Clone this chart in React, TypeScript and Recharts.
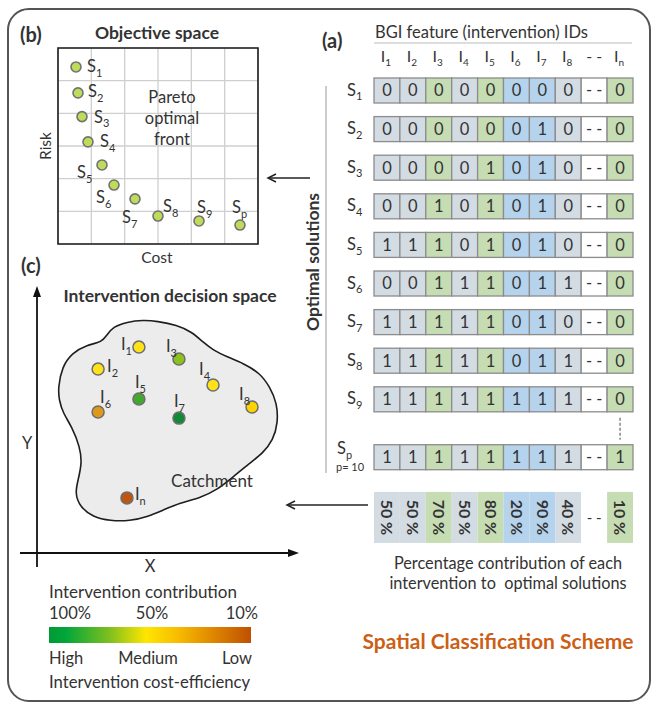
import React from "react";
import {
  ScatterChart,
  Scatter,
  XAxis,
  YAxis,
  CartesianGrid,
  ReferenceArea,
  ReferenceLine,
  Curve,
} from "recharts";

const FONT = "Lato, 'Noto Sans', sans-serif";
const INK = "#333333";

// ---- (b) objective space ----
const solutionIds = ["1", "2", "3", "4", "5", "6", "7", "8", "9", "p"];
const solutionCost = [0.54, 0.6, 0.72, 0.9, 1.32, 1.68, 2.31, 3.0, 4.23, 5.46];
const solutionRisk = [10.84, 9.25, 7.8, 6.25, 4.84, 3.61, 2.76, 1.71, 1.41, 1.16];
const costTicks = [0, 1, 2, 3, 4, 5, 6];
const riskTicks = [0, 1, 2, 3, 4, 5, 6, 7, 8, 9, 10, 11, 12];

// ---- (a) solutions x interventions ----
const interventionIds = ["1", "2", "3", "4", "5", "6", "7", "8", "--", "n"];
const solutionBits: (number | null)[][] = [
  [0, 0, 0, 0, 0, 0, 0, 0, null, 0],
  [0, 0, 0, 0, 0, 0, 1, 0, null, 0],
  [0, 0, 0, 0, 1, 0, 1, 0, null, 0],
  [0, 0, 1, 0, 1, 0, 1, 0, null, 0],
  [1, 1, 1, 0, 1, 0, 1, 0, null, 0],
  [0, 0, 1, 1, 1, 0, 1, 1, null, 0],
  [1, 1, 1, 1, 1, 0, 1, 0, null, 0],
  [1, 1, 1, 1, 1, 0, 1, 1, null, 0],
  [1, 1, 1, 1, 1, 1, 1, 1, null, 0],
  [1, 1, 1, 1, 1, 1, 1, 1, null, 1],
];
const contributionPct: (number | null)[] = [50, 50, 70, 50, 80, 20, 90, 40, null, 10];

// ---- (c) intervention decision space ----
const siteIds = ["1", "2", "3", "4", "5", "6", "7", "8", "n"];
const siteX = [39.2, 23.5, 54.6, 67.7, 39.2, 23.5, 54.6, 82.7, 34.6];
const siteY = [77.7, 69.4, 73.2, 63.4, 58.1, 53.2, 50.9, 55.1, 20.8];
const catchmentX = [
  8.1, 9.6, 13.5, 19.2, 25.0, 26.9, 29.2, 34.6, 40.8, 46.2, 53.8, 59.6, 63.8, 67.7,
  73.1, 79.2, 85.8, 89.6, 92.3, 92.7, 90.8, 86.9, 81.9, 75.4, 69.2, 62.7, 55.0, 48.5,
  42.3, 35.8, 28.1, 21.5, 16.5, 14.6, 15.8, 17.3, 16.5, 13.5, 10.0, 8.5,
];
const catchmentY = [
  62.3, 70.2, 75.5, 78.5, 79.6, 82.3, 85.3, 87.2, 87.9, 87.5, 86.0, 83.4, 79.6, 76.6,
  74.0, 71.7, 67.9, 62.6, 56.6, 49.1, 42.6, 37.7, 34.0, 28.7, 23.8, 20.8, 18.9, 16.2,
  13.6, 12.1, 12.1, 13.6, 17.4, 22.6, 27.5, 34.0, 40.0, 47.5, 52.8, 57.7,
];

// styling / placement (not data)
const COLUMN_FILL = [
  "#d3dbe3", "#d3dbe3", "#c6dcb3", "#d3dbe3", "#c6dcb3",
  "#b5d3ec", "#b5d3ec", "#d3dbe3", "#ffffff", "#c6dcb3",
];
const solutionLabelOffset: [number, number][] = [
  [11, 5], [10, 4], [12, 6], [12, 5], [-25, 13], [-18, 18], [-13, 24], [5, -4], [-2, -8], [-8, -12],
];
const siteLabelOffset: [number, number][] = [
  [-18, 3], [9, 3], [-13, -7], [-14, -10], [-4, -11], [2, -9], [-5, -11], [-13, -7], [8, 2],
];
const rampStops: [number, string][] = [
  [100, "#00892f"], [90, "#108a36"], [80, "#44a830"], [70, "#8cc21f"],
  [50, "#ffe21a"], [40, "#ffd200"], [20, "#e0981b"], [10, "#c0560e"],
];
const rowPos = (i: number) => (i < 9 ? i : 9.5);
const PCT_ROW = 11.06;
const CELL_W = 25.9;
const CELL_H = 25;

function hex(c: string) {
  const n = parseInt(c.slice(1), 16);
  return [(n >> 16) & 255, (n >> 8) & 255, n & 255];
}
function rampColor(pct: number) {
  for (let i = 0; i < rampStops.length - 1; i++) {
    const [p0, c0] = rampStops[i];
    const [p1, c1] = rampStops[i + 1];
    if (pct <= p0 && pct >= p1) {
      const t = (p0 - pct) / (p0 - p1);
      const a = hex(c0), b = hex(c1);
      return `rgb(${a.map((v, k) => Math.round(v + (b[k] - v) * t)).join(",")})`;
    }
  }
  return pct > 100 ? rampStops[0][1] : rampStops[rampStops.length - 1][1];
}

const solutions = solutionIds.map((id, i) => ({ id, cost: solutionCost[i], risk: solutionRisk[i] }));
const bitCells = solutionBits.flatMap((row, r) =>
  row.map((bit, c) => ({ col: c, row: rowPos(r), bit }))
);
const pctCells = contributionPct.map((pct, c) => ({ col: c, row: PCT_ROW, pct }));
const sites = siteIds.map((id, i) => ({
  id,
  x: siteX[i],
  y: siteY[i],
  pct: contributionPct[interventionIds.indexOf(id)] as number,
}));
const catchment = catchmentX.map((x, i) => ({ x, y: catchmentY[i] }));

function SubText({ x, y, base, sub, size = 16.5, subSize = 11, anchor = "start" }: any) {
  return (
    <text x={x} y={y} fontSize={size} fill={INK} textAnchor={anchor} fontFamily={FONT}>
      {base}
      <tspan dy={size * 0.28} fontSize={subSize}>
        {sub}
      </tspan>
    </text>
  );
}

function SolutionDot(props: any) {
  const { cx, cy, payload } = props;
  const [dx, dy] = solutionLabelOffset[solutionIds.indexOf(payload.id)];
  return (
    <g>
      <circle cx={cx} cy={cy} r={5} fill="#bedc5a" stroke="#727272" strokeWidth={1.6} />
      <SubText x={cx + dx} y={cy + dy} base="S" sub={payload.id} />
    </g>
  );
}

function BitCell(props: any) {
  const { cx, cy, payload } = props;
  return (
    <g>
      <rect
        x={cx - CELL_W / 2}
        y={cy - CELL_H / 2}
        width={CELL_W}
        height={CELL_H}
        fill={COLUMN_FILL[payload.col]}
        stroke="#8c8c8c"
        strokeWidth={1.3}
      />
      <text x={cx} y={cy} dy="0.36em" textAnchor="middle" fontSize={16.5} fill={INK} fontFamily={FONT}>
        {payload.bit == null ? "- -" : payload.bit}
      </text>
    </g>
  );
}

function PctCell(props: any) {
  const { cx, cy, payload } = props;
  const h = 51;
  return (
    <g>
      <rect x={cx - CELL_W / 2} y={cy - h / 2} width={CELL_W} height={h} fill={COLUMN_FILL[payload.col]} />
      <text
        x={cx}
        y={cy}
        dy="0.36em"
        textAnchor="middle"
        fontSize={payload.pct == null ? 15 : 16}
        fontWeight={payload.pct == null ? 400 : 700}
        fill={INK}
        fontFamily={FONT}
        transform={payload.pct == null ? undefined : `rotate(90, ${cx}, ${cy})`}
      >
        {payload.pct == null ? "- -" : `${payload.pct} %`}
      </text>
    </g>
  );
}

function HeaderTick(props: any) {
  const { x, index } = props;
  const id = interventionIds[index];
  if (id === "--")
    return (
      <text x={x} y={62} textAnchor="middle" fontSize={16} fill={INK} fontFamily={FONT}>
        - -
      </text>
    );
  return <SubText x={x - 1} y={62} base="I" sub={id} size={16} subSize={10} anchor="middle" />;
}

function RowTick(props: any) {
  const { y, index } = props;
  const id = solutionIds[index];
  if (id === "p")
    return (
      <g>
        <SubText x={337} y={y - 3} base="S" sub="p" />
        <text x={336} y={y + 14} fontSize={11} fill={INK} fontFamily={FONT}>
          p= 10
        </text>
      </g>
    );
  return <SubText x={347} y={y + 5} base="S" sub={id} />;
}

function SiteDot(props: any) {
  const { cx, cy, payload } = props;
  const [dx, dy] = siteLabelOffset[siteIds.indexOf(payload.id)];
  return (
    <g>
      <circle cx={cx} cy={cy} r={6} fill={rampColor(payload.pct)} stroke="#6e6e6e" strokeWidth={1.5} />
      <SubText x={cx + dx} y={cy + dy} base="I" sub={payload.id} />
    </g>
  );
}

function Txt({ x, y, align = "left", size = 16.5, bold = false, color = INK, rotate = 0, children }: any) {
  const tx = align === "center" ? "-50%" : align === "right" ? "-100%" : "0";
  return (
    <div
      style={{
        position: "absolute",
        left: x,
        top: y,
        transform: `translate(${tx}, -50%)${rotate ? ` rotate(${rotate}deg)` : ""}`,
        fontSize: size,
        fontWeight: bold ? 700 : 400,
        color,
        whiteSpace: "nowrap",
        lineHeight: 1,
      }}
    >
      {children}
    </div>
  );
}

const layer: React.CSSProperties = { position: "absolute", left: 0, top: 0 };

export default function App() {
  return (
    <div
      style={{
        position: "absolute",
        left: 0,
        top: 0,
        width: 653,
        height: 706,
        background: "#fff",
        fontFamily: FONT,
        color: INK,
        overflow: "hidden",
      }}
    >
      <div
        style={{
          position: "absolute",
          left: 7,
          top: 8,
          width: 644,
          height: 694,
          border: "2px solid #555",
          borderRadius: 22,
          boxSizing: "border-box",
        }}
      />

      {/* (b) objective space */}
      <div style={layer}>
        <ScatterChart width={320} height={270} margin={{ top: 48, right: 62, bottom: 26, left: 58 }}>
          <CartesianGrid stroke="#cfcfcf" strokeWidth={1.3} />
          <XAxis type="number" dataKey="cost" domain={[0, 6]} ticks={costTicks} hide />
          <YAxis type="number" dataKey="risk" domain={[0, 12]} ticks={riskTicks} hide />
          <ReferenceArea x1={0} x2={6} y1={0} y2={12} fill="none" stroke="#1e1e1e" strokeWidth={1.6} />
          <Scatter data={solutions} shape={SolutionDot} isAnimationActive={false} />
        </ScatterChart>
      </div>

      {/* (a) solution matrix */}
      <div style={layer}>
        <ScatterChart width={653} height={706} margin={{ top: 70.2, right: 20, bottom: 160, left: 373 }}>
          <XAxis
            type="number"
            dataKey="col"
            orientation="top"
            domain={[-0.5, 9.5]}
            ticks={[0, 1, 2, 3, 4, 5, 6, 7, 8, 9]}
            interval={0}
            height={1}
            axisLine={false}
            tickLine={false}
            tick={<HeaderTick />}
          />
          <YAxis
            type="number"
            dataKey="row"
            domain={[-0.5, 11.8]}
            reversed
            ticks={solutionIds.map((_, i) => rowPos(i))}
            interval={0}
            width={1}
            axisLine={false}
            tickLine={false}
            tick={<RowTick />}
          />
          <Scatter data={bitCells} shape={BitCell} isAnimationActive={false} />
          <Scatter data={pctCells} shape={PctCell} isAnimationActive={false} />
          <ReferenceLine
            segment={[
              { x: 9, y: 8.48 },
              { x: 9, y: 9.05 },
            ]}
            stroke="#666"
            strokeDasharray="3 2"
            strokeWidth={1.2}
          />
        </ScatterChart>
      </div>

      {/* (c) intervention decision space */}
      <div style={layer}>
        <ScatterChart width={653} height={706} margin={{ top: 288, right: 356, bottom: 153, left: 37 }}>
          <XAxis type="number" dataKey="x" domain={[0, 100]} hide />
          <YAxis type="number" dataKey="y" domain={[0, 100]} hide />
          <Scatter
            data={catchment}
            isAnimationActive={false}
            lineType="joint"
            line={(p: any) => (
              <Curve points={p.points} type="basisClosed" fill="#ececec" stroke="#1e1e1e" strokeWidth={1.6} />
            )}
            shape={() => <g />}
          />
          <ReferenceLine
            segment={[
              { x: 44.6, y: 48.3 },
              { x: 44.6, y: 28.3 },
            ]}
            stroke="#555"
            strokeDasharray="4 3"
            strokeWidth={1.2}
          />
          <Scatter data={sites} shape={SiteDot} isAnimationActive={false} />
        </ScatterChart>
      </div>

      {/* decorations */}
      <svg width={653} height={706} style={{ ...layer, pointerEvents: "none" }}>
        <line x1={374} x2={632} y1={43} y2={43} stroke="#bbb" strokeWidth={1} />
        <line x1={326} x2={326} y1={86} y2={473} stroke="#aaa" strokeWidth={1.2} />
        <g stroke="#222" strokeWidth={1.5} fill="none">
          <line x1={310} x2={269} y1={178} y2={178} />
          <path d="M276,174 L268,178 L276,182" />
          <line x1={368} x2={288} y1={505} y2={505} />
          <path d="M295,501 L287,505 L295,509" />
        </g>
        <g stroke="#111" strokeWidth={1.8}>
          <line x1={37} x2={37} y1={567} y2={294} />
          <line x1={20} x2={292} y1={553} y2={553} />
        </g>
        <polygon points="37,286 33,297 41,297" fill="#111" />
        <polygon points="299,553 288,549 288,557" fill="#111" />
      </svg>

      <Txt x={20} y={34} size={20} bold>(b)</Txt>
      <Txt x={157} y={33} size={17.5} bold align="center">Objective space</Txt>
      <Txt x={172} y={97} size={16.5} align="center">Pareto</Txt>
      <Txt x={172} y={118} size={16.5} align="center">optimal</Txt>
      <Txt x={172} y={139} size={16.5} align="center">front</Txt>
      <Txt x={46} y={146} size={15.5} align="center" rotate={-90}>Risk</Txt>
      <Txt x={157} y={258} size={15.5} align="center">Cost</Txt>

      <Txt x={322} y={40} size={20} bold>(a)</Txt>
      <Txt x={375} y={32} size={16.5}>BGI feature (intervention) IDs</Txt>
      <Txt x={313} y={262} size={17.5} bold align="center" rotate={-90}>Optimal solutions</Txt>
      <Txt x={508} y={563} size={16.3} align="center">Percentage contribution of each</Txt>
      <Txt x={508} y={583} size={16.3} align="center">intervention to&nbsp; optimal solutions</Txt>
      <Txt x={498} y={640} size={21} bold align="center" color="#cc5f15">Spatial Classification Scheme</Txt>

      <Txt x={21} y={265} size={20} bold>(c)</Txt>
      <Txt x={170} y={296} size={17.5} bold align="center">Intervention decision space</Txt>
      <Txt x={22} y={443} size={16.5}>Y</Txt>
      <Txt x={150} y={566} size={16.5} align="center">X</Txt>
      <Txt x={212} y={480} size={17} align="center">Catchment</Txt>

      <Txt x={49} y={591} size={17}>Intervention contribution</Txt>
      <Txt x={49} y={613} size={16.5}>100%</Txt>
      <Txt x={152} y={613} size={16.5} align="center">50%</Txt>
      <Txt x={258} y={613} size={16.5} align="right">10%</Txt>
      <div
        style={{
          position: "absolute",
          left: 49,
          top: 627,
          width: 202,
          height: 16,
          background:
            "linear-gradient(to right, #009a35 0%, #00a63a 8%, #7fbf1f 30%, #ffe600 48%, #f7b800 65%, #e08a00 80%, #c05000 100%)",
        }}
      />
      <Txt x={49} y={658} size={16.5}>High</Txt>
      <Txt x={148} y={658} size={16.5} align="center">Medium</Txt>
      <Txt x={252} y={658} size={16.5} align="right">Low</Txt>
      <Txt x={49} y={682} size={16.7}>Intervention cost-efficiency</Txt>
    </div>
  );
}
